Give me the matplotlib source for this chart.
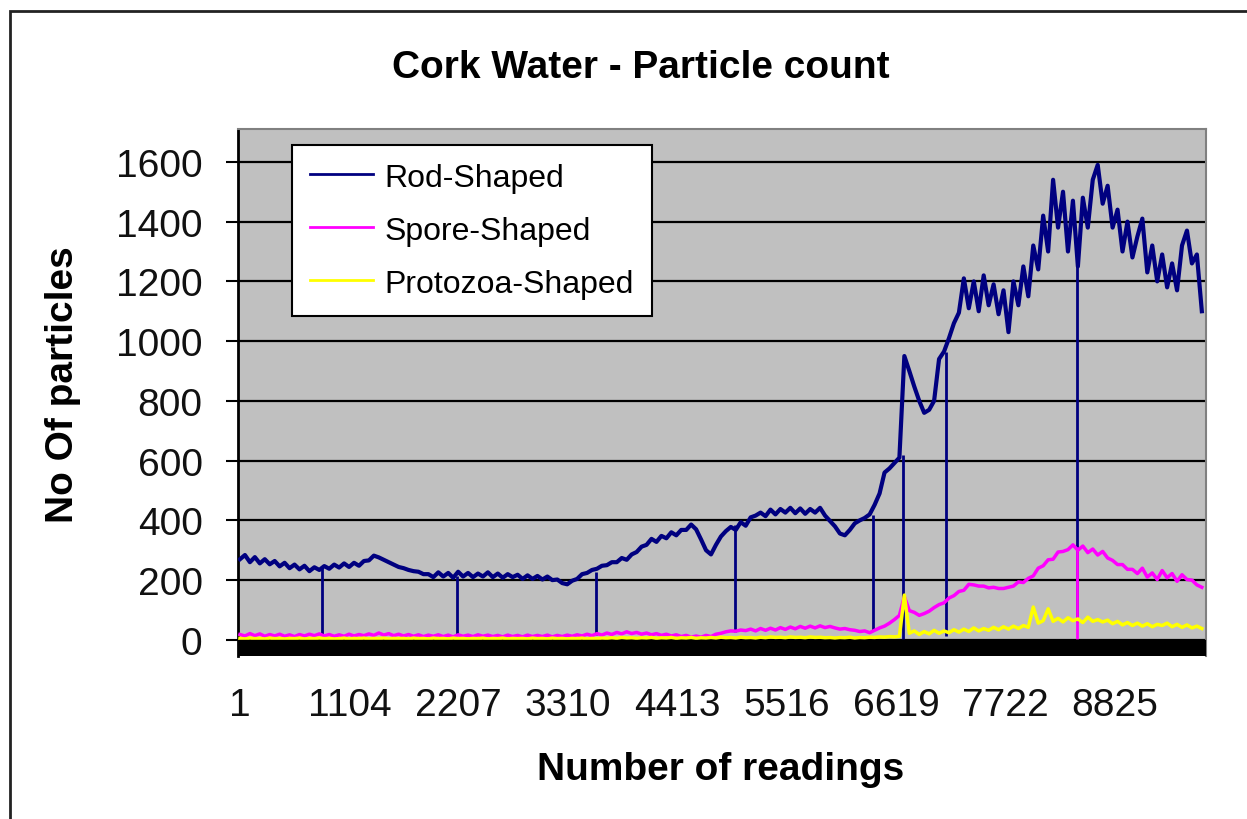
import numpy as np
import matplotlib
matplotlib.use("Agg")
from matplotlib import pyplot as plt
from matplotlib.patches import Rectangle

plt.rcParams['font.family'] = ['Liberation Sans', 'DejaVu Sans']

# readings were logged every 50 samples for this plot
step = 50
first_reading = 1

rod = [270, 284, 260, 277, 256, 270, 253, 264, 246, 258,
       240, 252, 236, 248, 230, 243, 234, 247, 238, 252,
       242, 256, 244, 258, 248, 264, 266, 282, 276, 268,
       260, 252, 244, 240, 234, 230, 228, 220, 220, 210,
       226, 212, 224, 208, 228, 212, 224, 210, 222, 212,
       226, 210, 222, 208, 220, 210, 218, 204, 216, 204,
       214, 202, 212, 200, 202, 190, 186, 198, 204, 220,
       224, 234, 238, 248, 250, 260, 260, 274, 268, 286,
       294, 312, 318, 338, 328, 348, 340, 360, 350, 368,
       368, 386, 370, 336, 300, 286, 318, 346, 364, 378,
       368, 394, 382, 410, 416, 426, 414, 436, 420, 438,
       426, 442, 424, 440, 422, 438, 426, 442, 416, 398,
       380, 356, 350, 368, 390, 400, 408, 420, 452, 490,
       560, 574, 592, 610, 950, 900, 848, 800, 760, 770,
       800, 940, 965, 1010, 1060, 1095, 1210, 1110, 1200, 1100,
       1220, 1120, 1190, 1090, 1170, 1030, 1200, 1120, 1250, 1150,
       1320, 1240, 1420, 1300, 1540, 1380, 1500, 1300, 1470, 1250,
       1480, 1380, 1540, 1590, 1460, 1520, 1380, 1440, 1300, 1400,
       1280, 1350, 1410, 1230, 1320, 1200, 1290, 1180, 1260, 1170,
       1320, 1370, 1260, 1290, 1100]

spore = [18, 13, 21, 14, 20, 12, 18, 13, 19, 12, 17, 11, 18, 13, 19, 14, 20, 13, 18, 12,
         17, 12, 19, 13, 18, 14, 20, 15, 23, 16, 21, 14, 19, 13, 18, 12, 17, 11, 16, 12,
         17, 11, 16, 10, 17, 12, 16, 11, 17, 12, 16, 11, 15, 10, 16, 11, 15, 10, 16, 11,
         15, 11, 16, 10, 15, 11, 16, 12, 17, 13, 19, 14, 21, 16, 23, 18, 25, 20, 27, 21,
         25, 19, 23, 17, 21, 15, 19, 13, 17, 11, 15, 9, 13, 9, 15, 11, 19, 22, 27, 30,
         29, 33, 31, 36, 30, 38, 32, 39, 33, 41, 35, 43, 37, 45, 39, 46, 40, 47, 41, 45,
         40, 36, 38, 34, 32, 28, 30, 24, 32, 40, 46, 56, 68, 82, 145, 98, 92, 82, 88, 96,
         108, 118, 124, 140, 148, 162, 166, 186, 184, 180, 180, 174, 176, 172, 172, 176, 180, 194, 192, 206,
         214, 240, 248, 268, 270, 294, 296, 302, 318, 300, 314, 292, 304, 284, 296, 274, 266, 252, 252, 236,
         236, 222, 240, 210, 224, 202, 232, 208, 222, 196, 218, 202, 200, 184, 176]

protozoa = [5, 3, 6, 4, 5, 3, 6, 4, 5, 3, 5, 4, 6, 3, 5, 4, 6, 4, 5, 3,
            4, 6, 3, 5, 4, 6, 3, 5, 4, 6, 3, 5, 4, 5, 3, 6, 4, 5, 3, 6,
            4, 5, 3, 6, 4, 5, 3, 5, 4, 6, 3, 5, 4, 6, 3, 5, 4, 5, 3, 6,
            4, 5, 3, 6, 4, 5, 3, 5, 4, 6, 3, 5, 4, 6, 5, 7, 5, 8, 6, 7,
            5, 7, 6, 8, 5, 7, 6, 8, 5, 7, 6, 8, 5, 7, 6, 8, 6, 9, 7, 8,
            6, 9, 7, 8, 6, 9, 7, 10, 8, 9, 7, 10, 8, 9, 7, 10, 8, 9, 7, 8,
            6, 8, 7, 9, 6, 8, 7, 9, 8, 10, 9, 11, 10, 12,
            150,
            22, 30, 18, 28, 20, 32, 22, 30, 24, 34, 26,
            36, 28, 40, 30, 38, 32, 42, 34, 44, 36, 46, 38, 48, 42,
            110, 56, 64, 104, 62, 72, 60, 74, 64, 70, 58, 76, 62, 68, 60, 66,
            54, 62, 50, 58, 48, 56, 46, 54, 44, 52, 48, 56, 44, 52, 42, 50, 40, 46, 38]

# single-reading dropouts (reading no, low value, high value)
rod_drop_at = [828, 2189, 3591, 4993, 6385, 6687, 7121, 8442]
rod_drop_low = [18, 16, 16, 28, 30, 2, 14, 60]
rod_drop_high = [240, 215, 226, 384, 418, 620, 965, 1330]
spore_drop_at = [8442]
spore_drop_low = [4]
spore_drop_high = [310]

tick_readings = [1, 1104, 2207, 3310, 4413, 5516, 6619, 7722, 8825]

rod_col = "#000080"
spore_col = "#ff00ff"
proto_col = "#ffff00"

x = first_reading + step*np.arange(len(rod))

fig = plt.figure(figsize=(12.47, 8.20), dpi=100)
ax = fig.add_axes([238/1247, 1-657/820, (1206-238)/1247, (657-130)/820])
ax.set_facecolor("#c0c0c0")

ax.plot(x, rod, c=rod_col, lw=3, label="Rod-Shaped", zorder=3)
ax.vlines(rod_drop_at, rod_drop_low, rod_drop_high, colors=rod_col, lw=2, zorder=3)
ax.plot(x, spore, c=spore_col, lw=2.5, label="Spore-Shaped", zorder=4)
ax.vlines(spore_drop_at, spore_drop_low, spore_drop_high, colors=spore_col, lw=2, zorder=4)
ax.plot(x, protozoa, c=proto_col, lw=2.5, label="Protozoa-Shaped", zorder=5)

ax.set_xlim(-19, 9743)
ax.set_ylim(-54, 1710)
ax.axhspan(-54, 0, color="black", zorder=6)

ax.set_yticks(range(0, 1601, 200))
ax.yaxis.grid(True, color="black", lw=1.6)
ax.set_axisbelow(True)
ax.set_xticks(tick_readings)
ax.set_xticklabels([str(t) for t in tick_readings])

ax.tick_params(axis="y", direction="out", length=8.5, width=1.5, pad=17,
               labelsize=28, labelcolor="#111111")
ax.tick_params(axis="x", length=0, pad=22, labelsize=28, labelcolor="#111111")

ax.spines["left"].set_linewidth(2)
ax.spines["bottom"].set_visible(False)
for s in ["top", "right"]:
    ax.spines[s].set_color("#808080")
    ax.spines[s].set_linewidth(1.5)

leg = ax.legend(loc="upper left", bbox_to_anchor=(292/1247, 1-146/820),
                bbox_transform=fig.transFigure, borderaxespad=0, fontsize=23,
                fancybox=False, framealpha=1, edgecolor="black",
                handlelength=2.0, handletextpad=0.35, borderpad=0.55,
                labelspacing=0.72)
leg.get_frame().set_linewidth(1.5)
for h in leg.get_lines():
    h.set_linewidth(2)
leg.set_zorder(10)

fig.text(641/1247, 1-68/820, "Cork Water - Particle count", ha="center", va="center",
         fontsize=28, fontweight="bold")
fig.text(63/1247, 1-385/820, "No Of particles", ha="center", va="center",
         rotation=90, fontsize=28, fontweight="bold")
fig.text(721/1247, 1-770/820, "Number of readings", ha="center", va="center",
         fontsize=28, fontweight="bold")

# outer chart frame, cut off at the right and bottom like the screenshot
fig.add_artist(Rectangle((10/1247, -0.1), 1.2, 1.1 - 12/820, transform=fig.transFigure,
                         fill=False, lw=2, ec="#222222"))

plt.savefig("out.png", dpi=100)
